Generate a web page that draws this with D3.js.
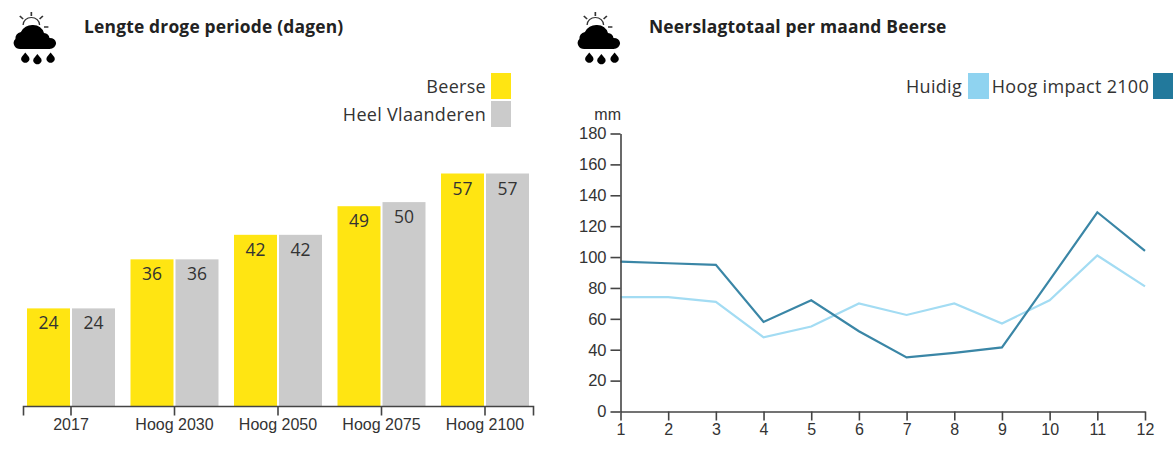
<!DOCTYPE html>
<html><head><meta charset="utf-8">
<script src="https://cdn.jsdelivr.net/npm/d3@7"></script>
<style>html,body{margin:0;padding:0;background:#fff;overflow:hidden}svg{display:block}</style>
</head><body><svg id="c" width="1173" height="467"></svg>
<script>
const periods = ["2017","Hoog 2030","Hoog 2050","Hoog 2075","Hoog 2100"];
const beerse = [24,36,42,49,57];
const vlaanderen = [24,36,42,50,57];
const months = [1,2,3,4,5,6,7,8,9,10,11,12];
const huidig = [74,74,71,48,55,70,62.5,70,57,72,101,81];
const hoog = [97,96,95,58,72,52,35,38,41.5,85,129,104];
const yTicks = [0,20,40,60,80,100,120,140,160,180];

const UI = "'Open Sans','Noto Sans',sans-serif", AX = "'Liberation Sans',Arial,sans-serif";
const YEL="#ffe512", GRY="#cbcbcb", LB="#8fd3f0", DB="#22799c", INK="#333";
const svg = d3.select("#c");

function icon(x,y){
  const g = svg.append("g").attr("transform",`translate(${x},${y}) scale(1.1,1)`);
  g.append("path").attr("d","M21 24a7.5 7.5 0 0 1 15 0").attr("fill","#fff").attr("stroke","#333").attr("stroke-width",1.2);
  g.selectAll("line").data([[28.5,11,28.5,15],[18,15,21,18],[39,15,36,18],[40,26,44,26]]).join("line")
    .attr("x1",d=>d[0]).attr("y1",d=>d[1]).attr("x2",d=>d[2]).attr("y2",d=>d[3])
    .attr("stroke","#333").attr("stroke-width",1.5);
  g.append("path").attr("fill","#000").attr("d","M19 48a6 6 0 0 1-5-10a7 7 0 0 1 5-7a11 11 0 0 1 11-7a10 10 0 0 1 10 8a6 6 0 0 1 5 5a6 6 0 0 1 6 5a6 6 0 0 1-6 6z");
  g.selectAll("path.d").data([23,34,46]).join("path").attr("class","d").attr("fill","#000")
    .attr("d",d=>`M${d} ${d==34?53:51.5}l3.3 4.5a3.8 3.8 0 1 1-6.6 0z`);
}
function title(x,t){svg.append("text").attr("x",x).attr("y",33).attr("font-family",UI).attr("font-weight",700).attr("font-size",17.4).attr("letter-spacing",0.2).attr("fill","#222").text(t);}
function legendItem(rightX,sx,sw,y,label,color){
  svg.append("rect").attr("x",sx).attr("y",y).attr("width",sw).attr("height",26).attr("fill",color);
  svg.append("text").attr("x",rightX).attr("y",y+20).attr("text-anchor","end").attr("font-family",UI).attr("font-size",18).attr("letter-spacing",0.3).attr("fill",INK).text(label);
}

// ---- left chart
icon(0,1); title(84,"Lengte droge periode (dagen)");
legendItem(486,491,20,73,"Beerse",YEL);
legendItem(486,491,20,101,"Heel Vlaanderen",GRY);

const x0 = d3.scaleBand().domain(periods).range([19.25,536.75]);
const yL = d3.scaleLinear().domain([0,57]).range([406.5,173.5]);
const bw = 43;
function bars(vals,color,off){
  svg.append("g").selectAll("rect").data(periods).join("rect")
    .attr("x",d=>x0(d)+x0.bandwidth()/2+off).attr("width",bw)
    .attr("y",(d,i)=>yL(vals[i])).attr("height",(d,i)=>yL(0)-yL(vals[i])).attr("fill",color);
  svg.append("g").selectAll("text").data(periods).join("text")
    .attr("x",d=>x0(d)+x0.bandwidth()/2+off+bw/2).attr("y",(d,i)=>yL(vals[i])+21)
    .attr("text-anchor","middle").attr("font-family",UI).attr("font-size",17.5).attr("fill","#333")
    .text((d,i)=>vals[i]);
}
bars(beerse,YEL,-44); bars(vlaanderen,GRY,1);

const axL = svg.append("g").attr("transform","translate(0,406.5)")
  .call(d3.axisBottom(x0).tickSize(9).tickPadding(3).tickSizeOuter(0));
axL.select(".domain").attr("d","M23.5,9V0H533.5V9").attr("stroke","#444").attr("stroke-width",1.6).attr("fill","none");
axL.selectAll("line").attr("stroke","#444").attr("stroke-width",1.6);
axL.selectAll("text").attr("font-family",AX).attr("font-size",16).attr("fill",INK);

// ---- right chart
icon(564,1); title(649,"Neerslagtotaal per maand Beerse");
legendItem(962,968,21,73,"Huidig",LB);
legendItem(1149,1153,20,73,"Hoog impact 2100",DB);

const xR = d3.scaleLinear().domain([1,12]).range([620.5,1145]);
const yR = d3.scaleLinear().domain([0,180]).range([411.5,133.5]);
const line = d3.line().x((d,i)=>xR(months[i])).y(d=>yR(d));
svg.append("path").datum(huidig).attr("d",line).attr("fill","none").attr("stroke","#a3dcf3").attr("stroke-width",2.2);
svg.append("path").datum(hoog).attr("d",line).attr("fill","none").attr("stroke","#3a86a6").attr("stroke-width",2.2);

const axY = svg.append("g").attr("transform","translate(620.5,0)")
  .call(d3.axisLeft(yR).tickValues(yTicks).tickSize(10).tickPadding(4).tickSizeOuter(0));
axY.select(".domain").attr("stroke","#444").attr("stroke-width",1.6);
axY.selectAll("line").attr("stroke","#444").attr("stroke-width",1.6);
axY.selectAll("text").attr("font-family",AX).attr("font-size",16.5).attr("fill",INK);

const axX = svg.append("g").attr("transform","translate(0,411.5)")
  .call(d3.axisBottom(xR).tickValues(months).tickFormat(d3.format("d")).tickSize(9).tickPadding(3).tickSizeOuter(0));
axX.select(".domain").attr("stroke","#444").attr("stroke-width",1.6);
axX.selectAll("line").attr("stroke","#444").attr("stroke-width",1.6);
axX.selectAll("text").attr("font-family",AX).attr("font-size",16).attr("fill",INK);

svg.append("text").attr("x",621).attr("y",120).attr("text-anchor","end").attr("font-family",AX).attr("font-size",16).attr("fill",INK).text("mm");
</script></body></html>
